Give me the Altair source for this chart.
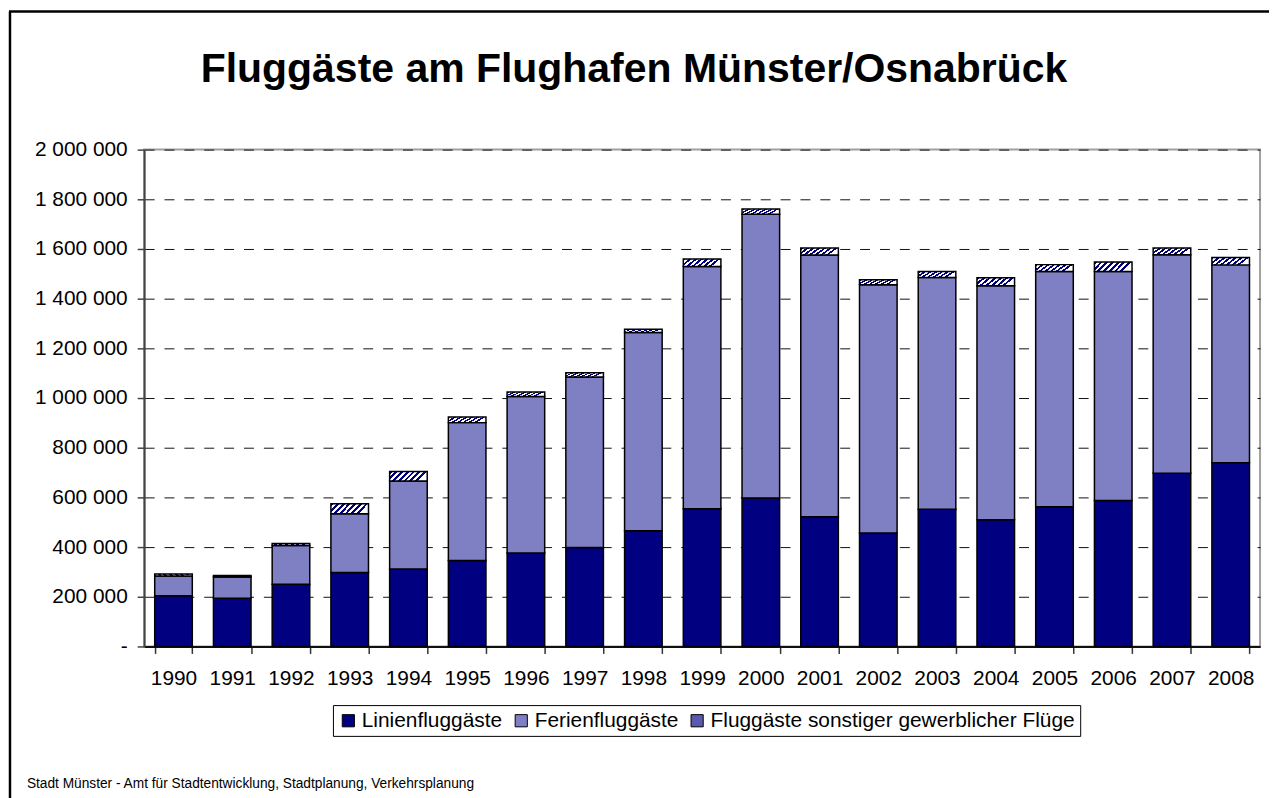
import altair as alt
import pandas as pd

TITLE = "Fluggäste am Flughafen Münster/Osnabrück"
SOURCE = "Stadt Münster - Amt für Stadtentwicklung, Stadtplanung, Verkehrsplanung"

YEARS = ["1990", "1991", "1992", "1993", "1994", "1995", "1996", "1997", "1998", "1999",
         "2000", "2001", "2002", "2003", "2004", "2005", "2006", "2007", "2008"]
SERIES = ["Linienfluggäste", "Ferienfluggäste", "Fluggäste sonstiger gewerblicher Flüge"]

LINIEN = [204000, 194000, 250000, 298000, 312000, 346000, 376000, 398000, 466000, 554000,
          598000, 522000, 457000, 552000, 510000, 562000, 588000, 697000, 740000]
FERIEN = [80000, 86000, 156000, 236000, 354000, 555000, 630000, 687000, 798000, 975000,
          1142000, 1054000, 999000, 933000, 942000, 947000, 921000, 880000, 796000]
SONSTIGE = [8000, 6000, 8000, 40000, 38000, 23000, 18000, 17000, 13000, 31000,
            21000, 28000, 20000, 24000, 32000, 28000, 39000, 27000, 30000]

Y_TICKS = [0, 200000, 400000, 600000, 800000, 1000000, 1200000, 1400000, 1600000, 1800000, 2000000]

COLORS = ["#000080", "#7f7fc4", "#5a5ab0"]
NAVY = "#000080"
FONT = "Liberation Sans"

rows = []
for i, year in enumerate(YEARS):
    for k, (name, vals) in enumerate(zip(SERIES, [LINIEN, FERIEN, SONSTIGE])):
        rows.append({"Jahr": year, "Serie": name, "Wert": vals[i], "Ordnung": k})
df = pd.DataFrame(rows)


def stripe_gradient(n, x2, y2):
    stops = []
    for i in range(n):
        stops += [
            {"offset": i / n, "color": NAVY},
            {"offset": (i + 0.5) / n, "color": NAVY},
            {"offset": (i + 0.5) / n, "color": "white"},
            {"offset": (i + 1) / n, "color": "white"},
        ]
    return {"gradient": "linear", "x1": 0, "y1": 0, "x2": x2, "y2": y2, "stops": stops}


stripes = stripe_gradient(7, 1, 0.25)

label_expr = "datum.value == 0 ? '-' : replace(format(datum.value, ',d'), regexp(',', 'g'), ' ')"

legend = alt.Legend(
    title=None, orient="none", legendX=190, legendY=559,
    direction="horizontal", columns=3,
    symbolType="square", symbolSize=150,
    symbolStrokeColor="black", symbolStrokeWidth=1, symbolOpacity=1,
    labelFontSize=21, labelFont=FONT, labelColor="black",
    labelOffset=3, labelLimit=0, columnPadding=8,
    strokeColor="black", fillColor="white", padding=5,
)

bars = alt.Chart(df).mark_bar(strokeWidth=1.5).encode(
    x=alt.X("Jahr:N", sort=YEARS,
            scale=alt.Scale(paddingInner=0.36, paddingOuter=0.18),
            axis=alt.Axis(title=None, labelAngle=0, tickBand="extent", tickSize=7,
                          tickColor="#333333", tickWidth=1.5, domainColor="#111111",
                          domainWidth=2, labelFontSize=21, labelPadding=14,
                          labelColor="black", labelFont=FONT, grid=False)),
    y=alt.Y("Wert:Q", stack="zero",
            scale=alt.Scale(domain=[0, 2000000], nice=False),
            axis=alt.Axis(title=None, values=Y_TICKS, labelExpr=label_expr,
                          grid=True, gridDash=[10, 10], gridColor="#111111", gridWidth=1,
                          domainColor="#444444", domainWidth=2, tickColor="#444444",
                          tickSize=7, tickWidth=1.5, labelFontSize=21, labelPadding=10,
                          labelColor="black", labelFont=FONT)),
    fill=alt.condition(
        alt.datum.Serie == SERIES[2],
        alt.value(stripes),
        alt.Fill("Serie:N", scale=alt.Scale(domain=SERIES, range=COLORS), legend=legend),
    ),
    stroke=alt.value("black"),
    order=alt.Order("Ordnung:Q"),
)

title = alt.Chart(pd.DataFrame({"t": [TITLE]})).mark_text(
    font=FONT, fontSize=41.2, fontWeight="bold", align="center",
    baseline="alphabetic", color="black"
).encode(text="t:N", x=alt.value(493), y=alt.value(-68.5))

source = alt.Chart(pd.DataFrame({"t": [SOURCE]})).mark_text(
    font=FONT, fontSize=13.8, align="left", baseline="alphabetic", color="black"
).encode(text="t:N", x=alt.value(-118), y=alt.value(642))

frame_left = alt.Chart(pd.DataFrame({"a": [0]})).mark_rule(
    color="black", strokeWidth=2.5
).encode(x=alt.value(-135), y=alt.value(-139), y2=alt.value(700))

frame_top = alt.Chart(pd.DataFrame({"a": [0]})).mark_rule(
    color="black", strokeWidth=2.5
).encode(x=alt.value(-136), x2=alt.value(1200), y=alt.value(-139))

chart = alt.layer(bars, title, source, frame_left, frame_top).properties(
    width=1123, height=500,
    autosize=alt.AutoSizeParams(type="none"),
    padding={"left": 137, "top": 140, "right": 9, "bottom": 150},
).configure(font=FONT).configure_view(stroke="#a0a0a0", strokeWidth=2)

chart.save("out.html", embed_options={"renderer": "svg", "actions": False})
